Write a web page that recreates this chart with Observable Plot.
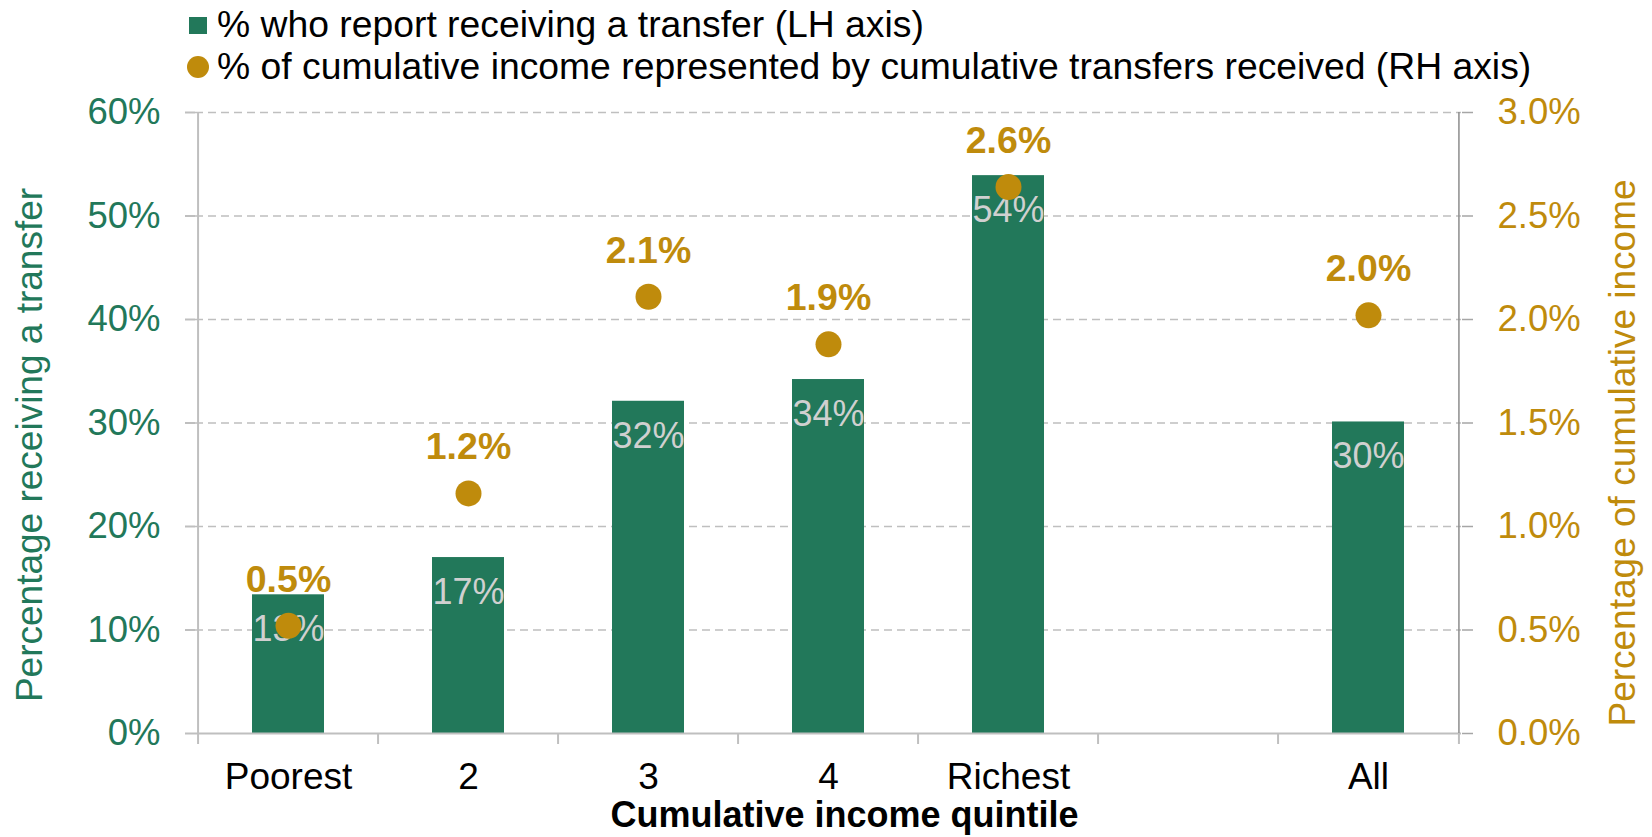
<!DOCTYPE html>
<html>
<head>
<meta charset="utf-8">
<script src="https://cdn.jsdelivr.net/npm/d3@7"></script>
<script src="https://cdn.jsdelivr.net/npm/@observablehq/plot@0.6"></script>
<style>
  html, body { margin: 0; padding: 0; background: #fff; }
  body { width: 1652px; height: 837px; overflow: hidden; font-family: "Liberation Sans", Arial, sans-serif; }
  #legend { position: relative; height: 88px; width: 1652px; }
  .lg-item { position: absolute; left: 217px; font-size: 37.3px; line-height: 42px; color: #000; white-space: nowrap; }
  .sw { position: absolute; }
  #chart svg { display: block; }
</style>
</head>
<body>
<div id="legend"></div>
<div id="chart"></div>
<script>
// ---- data ----
const domainCats = ["Poorest", "2", "3", "4", "Richest", " ", "All"];
const groups = ["Poorest", "2", "3", "4", "Richest", "All"];
const receivedPct = [0.134, 0.170, 0.321, 0.342, 0.539, 0.301];      // LH axis
const incomeShare = [0.0052, 0.0116, 0.0211, 0.0188, 0.0264, 0.0202]; // RH axis
const leftTicks = [0, 0.1, 0.2, 0.3, 0.4, 0.5, 0.6];
const rightTicks = [0, 0.005, 0.01, 0.015, 0.02, 0.025, 0.03];
const legendLabels = [
  "% who report receiving a transfer (LH axis)",
  "% of cumulative income represented by cumulative transfers received (RH axis)"
];
const xTitle = "Cumulative income quintile";
const yLeftTitle = "Percentage receiving a transfer";
const yRightTitle = "Percentage of cumulative income";

const green = "#22785A";
const gold = "#BF8B0C";
const grey = "#BFBFBF";
const ratio = 0.6 / 0.03; // right axis -> left axis scale

const rows = groups.map((g, i) => ({cat: g, pct: receivedPct[i], share: incomeShare[i]}));

// ---- legend ----
const legend = document.getElementById("legend");
legend.innerHTML = `
  <div class="sw" style="left:189px;top:17px;width:18px;height:17px;background:${green}"></div>
  <div class="lg-item" style="top:3px">${legendLabels[0]}</div>
  <div class="sw" style="left:187px;top:56px;width:22px;height:22px;border-radius:50%;background:${gold}"></div>
  <div class="lg-item" style="top:45px">${legendLabels[1]}</div>`;

// ---- chart ----
const W = 1652, H = 749;
const mL = 195, mR = 191, mT = 24, mB = 104;
const step = (W - mL - mR) / domainCats.length;

const chart = Plot.plot({
  width: W,
  height: H,
  marginLeft: mL,
  marginRight: mR,
  marginTop: mT,
  marginBottom: mB,
  style: {fontFamily: "'Liberation Sans', Arial, sans-serif", fontSize: "36px", background: "#fff"},
  x: {domain: domainCats, paddingInner: 0.6, paddingOuter: 0.3, label: null},
  y: {domain: [0, 0.6], label: null},
  marks: [
    // dashed gridlines
    Plot.ruleY(leftTicks.filter(d => d > 0), {stroke: grey, strokeWidth: 1.6, strokeDasharray: "8,5"}),
    // bars
    Plot.barY(rows, {x: "cat", y: "pct", fill: green}),
    // baseline
    Plot.ruleY([0], {stroke: grey, strokeWidth: 2}),
    // left & right axis lines
    Plot.ruleX(["Poorest"], {x: d => d, y1: 0, y2: 0.6, dx: -step / 2, stroke: grey, strokeWidth: 2}),
    Plot.ruleX(["All"], {x: d => d, y1: 0, y2: 0.6, dx: step / 2, stroke: "#8C8C8C", strokeWidth: 1.5}),
    // x boundary ticks
    Plot.axisX({tickSize: 11, tickFormat: () => "", dx: -step / 2, stroke: grey, strokeWidth: 2, label: null}),
    Plot.axisX(["All"], {tickSize: 11, tickFormat: () => "", dx: step / 2, stroke: grey, strokeWidth: 2, label: null}),
    // x tick labels
    Plot.axisX({tickSize: 0, tickPadding: 29, fontSize: 37, fill: "#000", label: null}),
    // left axis
    Plot.axisY(leftTicks, {anchor: "left", tickSize: 10, tickPadding: 25, tickFormat: d3.format(".0%"),
      stroke: grey, strokeWidth: 2, fill: green, fontSize: 36.5, label: null}),
    // right axis
    Plot.axisY(rightTicks.map(d => d * ratio), {anchor: "right", tickSize: 11, tickPadding: 25,
      tickFormat: d => d3.format(".1%")(d / ratio), stroke: "#A6A6A6", strokeWidth: 1.5, fill: gold, fontSize: 36.5, label: null}),
    // bar value labels
    Plot.text(rows, {x: "cat", y: "pct", text: d => d3.format(".0%")(d.pct), dy: 35, fill: "#D0D0D0", fontSize: 36}),
    // dots
    Plot.dot(rows, {x: "cat", y: d => d.share * ratio, r: 13, fill: gold}),
    // dot labels
    Plot.text(rows, {x: "cat", y: d => d.share * ratio, text: d => d3.format(".1%")(d.share), dy: -46,
      fill: gold, fontSize: 37.5, fontWeight: "bold"}),
    // axis titles
    Plot.text([xTitle], {frameAnchor: "bottom", lineAnchor: "middle", textAnchor: "middle", dx: 16, dy: 82,
      fontSize: 36, fontWeight: "bold", fill: "#000"}),
    Plot.text([yLeftTitle], {frameAnchor: "left", textAnchor: "middle", lineAnchor: "middle", rotate: -90,
      dx: -165, dy: 22, fontSize: 37, fill: green}),
    Plot.text([yRightTitle], {frameAnchor: "right", textAnchor: "middle", lineAnchor: "middle", rotate: -90,
      dx: 162, dy: 30, fontSize: 37, fill: gold})
  ]
});
document.getElementById("chart").appendChild(chart);
</script>
</body>
</html>
